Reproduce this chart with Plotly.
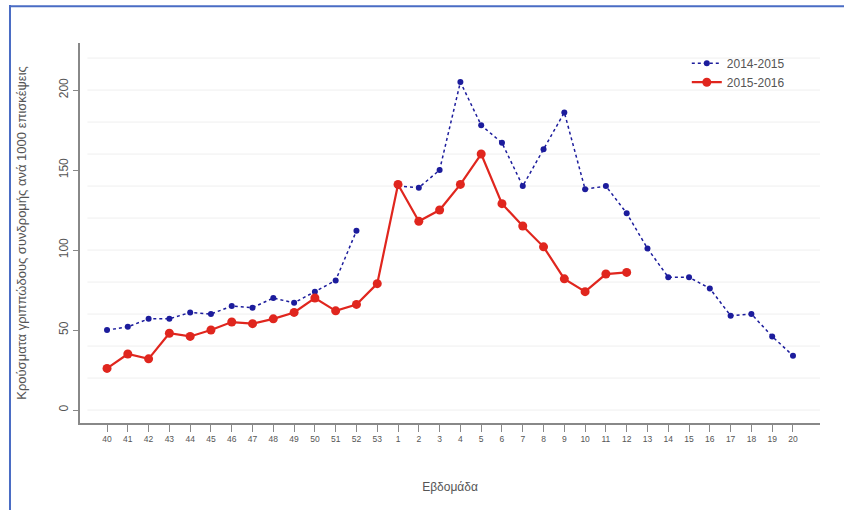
import plotly.graph_objects as go

weeks = [str(w) for w in range(40, 54)] + [str(w) for w in range(1, 21)]

season_2014_2015 = [50, 52, 57, 57, 61, 60, 65, 64, 70, 67, 74, 81, 112, None,
                    140, 139, 150, 205, 178, 167, 140, 163, 186, 138, 140, 123,
                    101, 83, 83, 76, 59, 60, 46, 34]

season_2015_2016 = [26, 35, 32, 48, 46, 50, 55, 54, 57, 61, 70, 62, 66, 79,
                    141, 118, 125, 141, 160, 129, 115, 102, 82, 74, 85, 86,
                    None, None, None, None, None, None, None, None]

grid_values = [0, 20, 40, 60, 80, 100, 120, 140, 160, 180, 200, 220]
y_ticks = [0, 50, 100, 150, 200]

font_family = "Liberation Sans, Arial, sans-serif"
grey = "#555555"

fig = go.Figure()
fig.add_trace(go.Scatter(
    x=weeks, y=season_2014_2015, name="2014-2015", mode="lines+markers",
    line=dict(color="#1c1c9c", width=1.5, dash="dot"),
    marker=dict(color="#1c1c9c", size=6), connectgaps=False))
fig.add_trace(go.Scatter(
    x=weeks, y=season_2015_2016, name="2015-2016", mode="lines+markers",
    line=dict(color="#e0261e", width=2.2),
    marker=dict(color="#e0261e", size=9), connectgaps=False))

shapes = []
for g in grid_values:
    shapes.append(dict(type="line", xref="paper", yref="y", x0=0.01, x1=1, y0=g, y1=g,
                       line=dict(color="#efefef", width=1), layer="below"))
# outer blue frame
shapes.append(dict(type="line", xref="paper", yref="paper", x0=-0.0946, x1=1.04, y0=1.097, y1=1.097,
                   line=dict(color="#4a6cc4", width=2)))
shapes.append(dict(type="line", xref="paper", yref="paper", x0=-0.0946, x1=-0.0946, y0=1.1, y1=-0.25,
                   line=dict(color="#4a6cc4", width=2)))

fig.update_layout(
    width=844, height=510,
    margin=dict(l=80, r=24, t=43, b=87),
    paper_bgcolor="white", plot_bgcolor="white",
    font=dict(family=font_family, color=grey, size=11),
    shapes=shapes,
    showlegend=True,
    legend=dict(x=0.82, y=0.985, xanchor="left", yanchor="top",
                font=dict(size=12, color=grey), bgcolor="rgba(0,0,0,0)",
                tracegroupgap=0, itemwidth=30),
    xaxis=dict(type="category", categoryorder="array", categoryarray=weeks,
               range=[-1.3, 34.3], showgrid=False, zeroline=False,
               showline=True, linecolor="#888888", linewidth=1.5,
               ticks="outside", ticklen=7, tickcolor="#888888",
               tickfont=dict(size=8.5, color=grey), tickangle=0,
               title=dict(text="Εβδομάδα", font=dict(size=12, color=grey), standoff=40)),
    yaxis=dict(range=[-8.1, 229.4], tickvals=y_ticks, showgrid=False, zeroline=False,
               showline=True, linecolor="#888888", linewidth=1.5,
               ticks="outside", ticklen=5, tickcolor="#888888",
               tickangle=-90, tickfont=dict(size=12, color=grey),
               title=dict(text="Κρούσματα γριππώδους συνδρομής ανά 1000 επισκέψεις",
                          font=dict(size=13, color=grey), standoff=28)),
)

fig.write_html("out.html", config={"displayModeBar": False},
               post_script="document.body.style.margin='0';")
